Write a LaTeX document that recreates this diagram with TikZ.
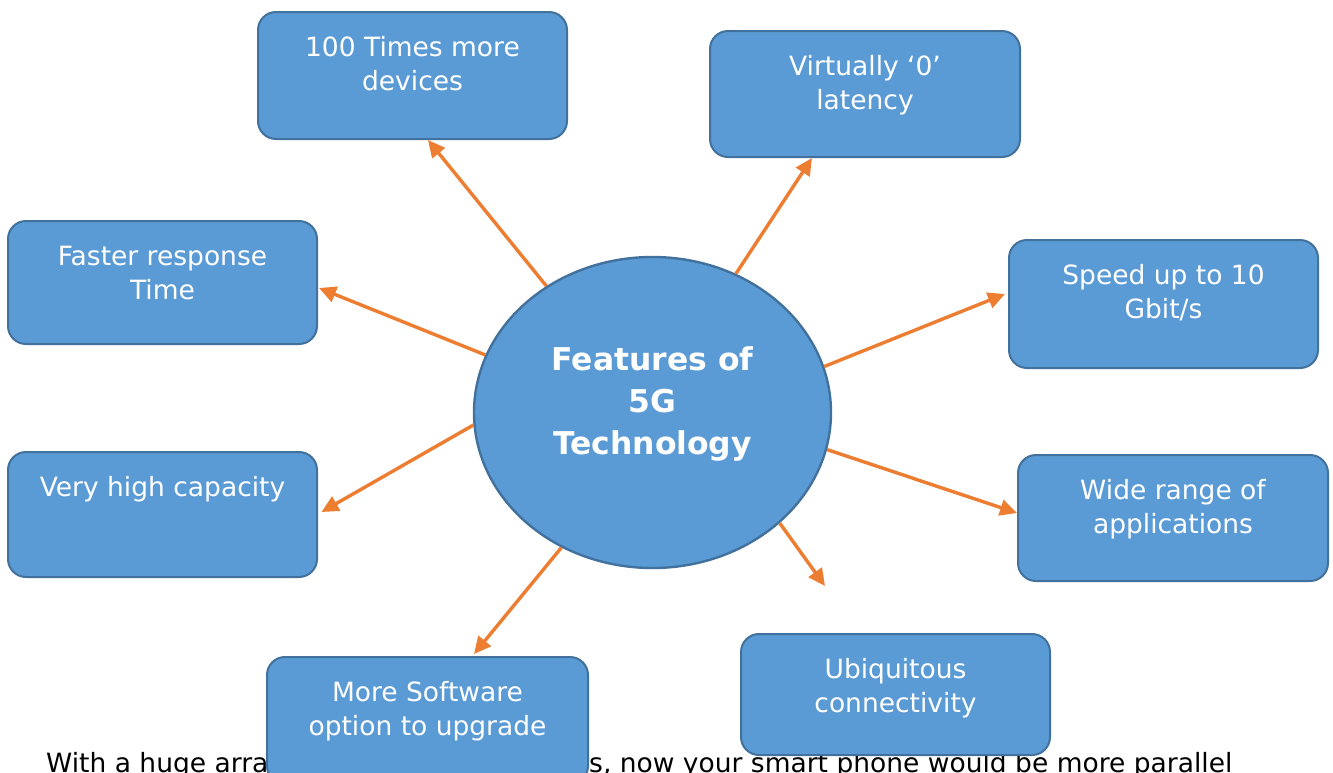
\documentclass[tikz,border=0pt]{standalone}
\usepackage{fontspec}
\setmainfont{DejaVu Sans}
\usetikzlibrary{arrows.meta,shapes.geometric,calc}
\definecolor{boxfill}{HTML}{5B9BD5}
\definecolor{boxline}{HTML}{41719C}
\definecolor{arrowc}{HTML}{ED7D31}
\begin{document}
\begin{tikzpicture}[x=1pt,y=-1pt,
  fbox/.style={draw=boxline, fill=boxfill, line width=2pt, rounded corners=18pt, inner sep=0pt},
  ftext/.style={text=white, font=\fontsize{26.5}{34}\selectfont, align=center, inner sep=0pt, anchor=north},
  bodytext/.style={text=black, font=\fontsize{26.5}{34}\selectfont, inner sep=0pt, anchor=base west},
  feat/.style={draw=arrowc, line width=3.4pt, -{Triangle[length=17pt,width=16pt]}}
  ]
\useasboundingbox (0,0) rectangle (1333,772);

% body text behind the boxes
\node[bodytext] (p1) at (46,772) {With a huge arra};
\node[bodytext] (p2) at (589,772) {s, now your smart phone would be more parallel};

% feature boxes
\node[fbox, minimum width=309pt, minimum height=127pt] (b1) at (412.5,75.5) {};
\node[fbox, minimum width=310pt, minimum height=126pt] (b2) at (865,94) {};
\node[fbox, minimum width=309pt, minimum height=123pt] (b3) at (162.5,282.5) {};
\node[fbox, minimum width=309pt, minimum height=128pt] (b4) at (1163.5,304) {};
\node[fbox, minimum width=309pt, minimum height=125pt] (b5) at (162.5,514.5) {};
\node[fbox, minimum width=310pt, minimum height=126pt] (b6) at (1173,518) {};
\node[fbox, minimum width=321pt, minimum height=127pt] (b7) at (427.5,720.5) {};
\node[fbox, minimum width=309pt, minimum height=121pt] (b8) at (895.5,694.5) {};

\node[ftext] (t1) at ($(b1.north)+(0,21.2)$) {\strut 100 Times more\\devices};
\node[ftext] (t2) at ($(b2.north)+(0,21.2)$) {\strut Virtually ‘0’\\latency};
\node[ftext] (t3) at ($(b3.north)+(0,21.2)$) {\strut Faster response\\Time};
\node[ftext] (t4) at ($(b4.north)+(0,21.2)$) {\strut Speed up to 10\\Gbit/s};
\node[ftext] (t5) at ($(b5.north)+(0,21.2)$) {\strut Very high capacity};
\node[ftext] (t6) at ($(b6.north)+(0,21.2)$) {\strut Wide range of\\applications};
\node[ftext] (t7) at ($(b7.north)+(0,21.2)$) {\strut More Software\\option to upgrade};
\node[ftext] (t8) at ($(b8.north)+(0,21.2)$) {\strut Ubiquitous\\connectivity};

% central ellipse
\node[ellipse, draw=boxline, fill=boxfill, line width=2.4pt, minimum width=357pt, minimum height=311pt, inner sep=0pt] (c) at (652.5,412.5) {};
\node[text=white, font=\bfseries\fontsize{31.4}{42}\selectfont, align=center, inner sep=0pt, anchor=north] (ct) at (652.5,341) {\strut Features of\\5G\\Technology};

% connectors
\coordinate (e8) at (825,586);
\draw[feat] (c.130.6) -- ($(b1.south)+(15.5,0)$);
\draw[feat] (c.59.4) -- ($(b2.south)+(-53,0)$);
\draw[feat] (c.161.7) -- ($(b3.east)+(1,5.5)$);
\draw[feat] (c.15.2) -- ($(b4.west)+(-3,-10)$);
\draw[feat] (c.184.6) -- ($(b5.east)+(3.5,-2.5)$);
\draw[feat] (c.-12.9) -- ($(b6.west)+(0,-5)$);
\draw[feat] (c.236.6) -- ($(b7.north)+(46.5,-2)$);
\draw[feat] (c.-41.8) -- (e8);
\end{tikzpicture}
\end{document}
